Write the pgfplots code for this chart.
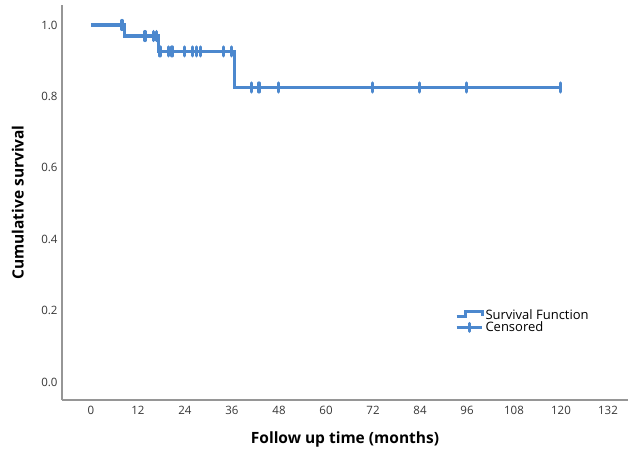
\documentclass[border=0pt]{standalone}
\usepackage{pgfplots}
\pgfplotsset{compat=1.18}
\usepackage{fontspec}
\setmainfont{Open Sans}
\definecolor{kmblue}{RGB}{76,136,206}
\definecolor{axgray}{RGB}{150,150,150}
\definecolor{txtgray}{RGB}{55,55,55}
\begin{document}
\begin{tikzpicture}
\begin{axis}[
  at={(0,0)}, anchor=south west,
  scale only axis,
  width=566bp, height=395bp,
  xmin=-7.4, xmax=137.1,
  ymin=-0.0504, ymax=1.056,
  axis x line=bottom, axis y line=left,
  axis line style={axgray, line width=1.2bp, -},
  xtick={0,12,...,132},
  ytick={0,0.2,...,1.0},
  major tick length=0pt,
  yticklabel style={/pgf/number format/fixed, /pgf/number format/fixed zerofill, /pgf/number format/precision=1, xshift=-1bp},
  /pgf/number format/assume math mode=true,
  tick label style={font=\fontsize{11.5bp}{13bp}\selectfont, text=txtgray},
  xticklabel style={yshift=-3bp},
  xlabel={Follow up time (months)},
  ylabel={Cumulative survival},
  label style={font=\fontsize{15.5bp}{18bp}\selectfont\bfseries},
  xlabel style={at={(axis description cs:0.5,-0.101)}, anchor=center},
  ylabel style={at={(axis description cs:-0.078,0.5)}, anchor=center},
  legend style={draw=none, fill=none, at={(axis description cs:0.694,0.235)}, anchor=north west,
    font=\fontsize{13bp}{15bp}\selectfont, row sep=-3bp, inner sep=0pt},
  legend cell align=left,
]
\addplot[const plot, kmblue, line width=3.2bp,
  legend image code/.code={
    \draw[kmblue, line width=3bp, line join=miter] (0cm,-0.06cm) -- (0.3cm,-0.06cm) -- (0.3cm,0.12cm) -- (0.9cm,0.12cm) -- (0.9cm,-0.02cm);
  }]
  coordinates {(0,1.0) (8.5,0.969) (17.3,0.926) (36.7,0.825) (119.8,0.825)};
\addlegendentry{Survival Function}
\addplot[only marks, kmblue, mark=|, mark size=4.5bp, mark options={line width=3.2bp, line cap=round},
  legend image code/.code={
    \draw[kmblue, line width=3bp] (0cm,0cm) -- (0.9cm,0cm);
    \draw[kmblue, line width=3.2bp, line cap=round] (0.45cm,-0.14cm) -- (0.45cm,0.14cm);
  }]
  coordinates {
    (7.9,1.0)
    (13.8,0.969) (16.0,0.969) (16.8,0.969)
    (17.6,0.926) (19.8,0.926) (20.7,0.926) (23.8,0.926) (26.0,0.926) (27.0,0.926) (28.0,0.926) (33.9,0.926) (35.9,0.926)
    (41.0,0.825) (42.9,0.825) (47.9,0.825) (71.8,0.825) (83.9,0.825) (95.9,0.825) (119.8,0.825)
  };
\addlegendentry{Censored}
\end{axis}
\pgfresetboundingbox
\path (-62bp,-49bp) rectangle (566bp,400bp);
\end{tikzpicture}
\end{document}
